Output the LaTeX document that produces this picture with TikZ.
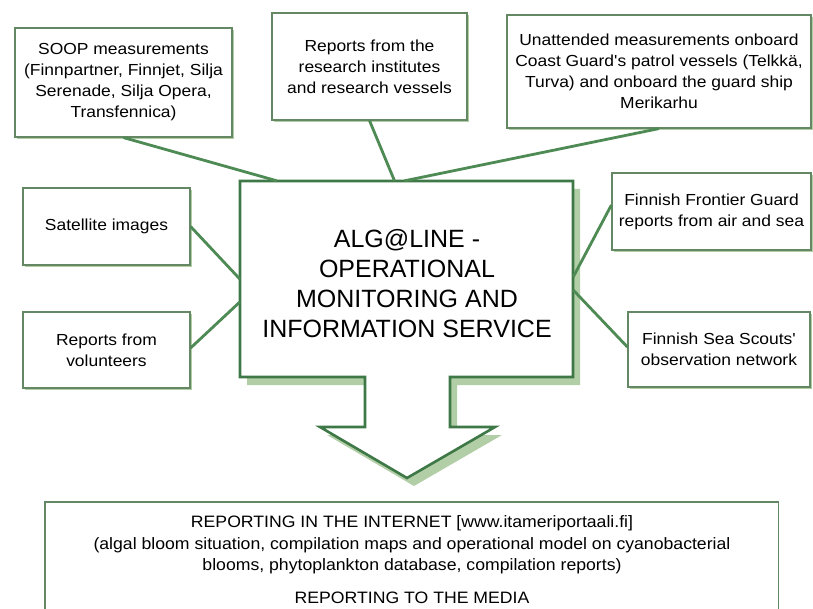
\documentclass[tikz,border=0pt]{standalone}
\usepackage{fontspec}
\setmainfont{Liberation Sans}
\newfontfamily\srcfont{Liberation Sans}[FakeStretch=1.09]
\newfontfamily\medfont{Liberation Sans}[FakeStretch=1.07]
\usetikzlibrary{shadows,calc}
\definecolor{lgreen}{RGB}{78,138,84}
\definecolor{bgreen}{RGB}{100,135,100}
\definecolor{sgreen}{RGB}{178,206,166}
\definecolor{cgreen}{RGB}{62,120,70}
\begin{document}
\begin{tikzpicture}[x=1pt,y=-1pt,
  src/.style={draw=bgreen, line width=1.2pt, fill=white, align=center,
    font=\srcfont\fontsize{16}{21}\selectfont, inner sep=0pt,
    drop shadow={shadow xshift=2pt, shadow yshift=-2pt, fill=sgreen, opacity=1}},
  link/.style={draw=lgreen, line width=2.8pt},
  plain/.style={inner sep=0pt, align=center}]
\useasboundingbox (0,0) rectangle (813,609);

% central box with arrow: shadow then outline
\begin{scope}[shift={(7,8)}]
  \fill[sgreen] (240,181) -- (573,181) -- (573,377) -- (450,377) -- (450,427) -- (495,427)
    -- (407,478) -- (320,427) -- (365,427) -- (365,377) -- (240,377) -- cycle;
\end{scope}
\draw[cgreen, line width=2.6pt, fill=white, line join=miter]
  (240,181) -- (573,181) -- (573,377) -- (450,377) -- (450,427) -- (495,427)
  -- (407,478) -- (320,427) -- (365,427) -- (365,377) -- (240,377) -- cycle;
\node[plain, minimum width=333pt, minimum height=196pt] (core) at (406.5,279) {};
\node[plain, font=\fontsize{25}{30}\selectfont] (coretext) at (407,284)
  {ALG@LINE -\\OPERATIONAL\\MONITORING AND\\INFORMATION SERVICE};

% source boxes
\node[src, minimum width=217pt, minimum height=109pt] (soop) at (123.5,82.5)
  {SOOP measurements\\(Finnpartner, Finnjet, Silja\\Serenade, Silja Opera,\\Transfennica)};
\node[src, minimum width=195pt, minimum height=107pt] (research) at (369.5,66.5)
  {Reports from the\\research institutes\\and research vessels};
\node[src, minimum width=304pt, minimum height=113pt] (unatt) at (659,71.5)
  {Unattended measurements onboard\\Coast Guard's patrol vessels (Telkkä,\\Turva) and onboard the guard ship\\Merikarhu};
\node[src, minimum width=167pt, minimum height=77pt] (sat) at (106.5,226.5)
  {Satellite images};
\node[src, minimum width=167pt, minimum height=76pt] (vol) at (106.5,350)
  {Reports from\\volunteers};
\node[src, minimum width=199pt, minimum height=77pt] (front) at (711.5,211.5)
  {Finnish Frontier Guard\\reports from air and sea};
\node[src, minimum width=182pt, minimum height=75pt] (scouts) at (719,349.5)
  {Finnish Sea Scouts'\\observation network};

% connectors
\draw[link] (soop.south) -- ([xshift=37pt]core.north west);
\draw[link] (research.south) -- ([xshift=-12pt]core.north);
\draw[link] (unatt.south) -- ([xshift=-2pt]core.north);
\draw[link] (sat.east) -- (core.west);
\draw[link] ([yshift=2pt]vol.east) -- ([yshift=-23pt]core.west);
\draw[link] ([yshift=6.5pt]front.west) -- ([yshift=2pt]core.east);
\draw[link] ([yshift=2.5pt]scouts.west) -- ([yshift=-11pt]core.east);

% bottom box (cut by the page edge)
\node[plain, minimum width=733pt, minimum height=110pt] (media) at (411.5,557) {};
\draw[bgreen, line width=1.4pt] (media.south west) -- (media.north west) -- (media.north east) -- (media.south east);
\node[plain, anchor=north, font=\medfont\fontsize{16.5}{21.5}\selectfont] (mediatext) at (412,515.5)
  {REPORTING IN THE INTERNET [www.itameriportaali.fi]\\
   (algal bloom situation, compilation maps and operational model on cyanobacterial\\
   blooms, phytoplankton database, compilation reports)\\[11pt]
   REPORTING TO THE MEDIA};
\end{tikzpicture}
\end{document}
